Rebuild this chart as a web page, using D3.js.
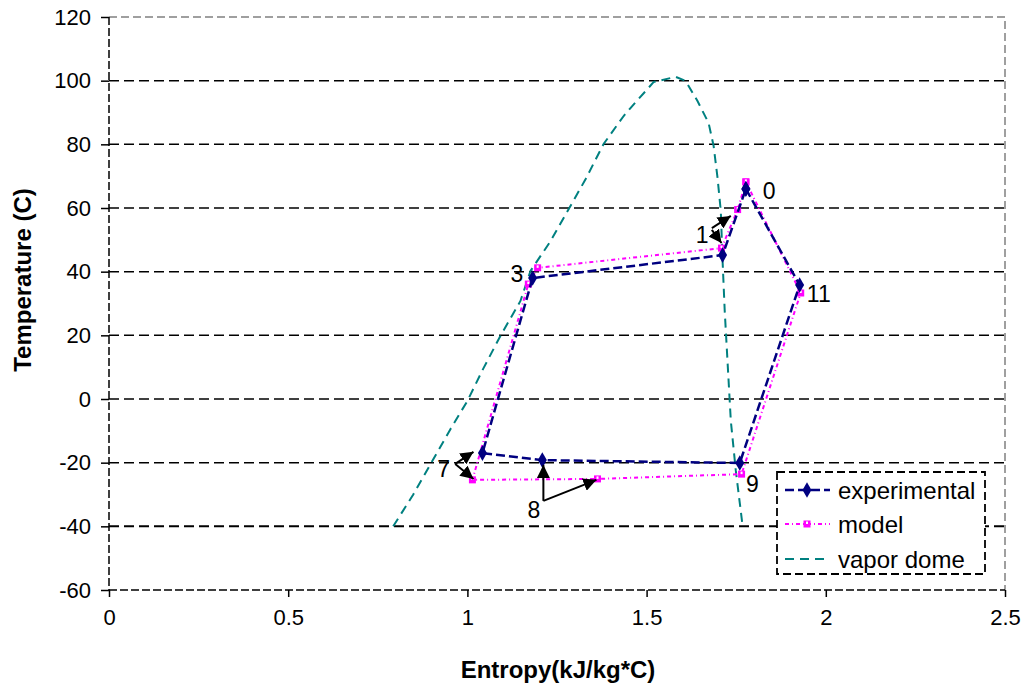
<!DOCTYPE html>
<html>
<head>
<meta charset="utf-8">
<script src="https://cdn.jsdelivr.net/npm/d3@7"></script>
<style>
  body { margin: 0; background: #fff; }
  text { font-family: Arial, "Liberation Sans", sans-serif; fill: #000; }
</style>
</head>
<body>
<svg id="chart" width="1026" height="685"></svg>
<script>
// experimental cycle (entropy kJ/kg*C, temperature C)
const expS = [1.777, 1.927, 1.760, 1.209, 1.042, 1.182, 1.712, 1.777];
const expT = [66.0, 35.8, -20.1, -19.2, -17.0, 38.0, 45.2, 66.0];

// model cycle
const modelS = [1.777, 1.930, 1.765, 1.363, 1.014, 1.170, 1.196, 1.709, 1.754, 1.777];
const modelT = [68.2, 33.3, -23.6, -25.1, -25.4, 36.1, 41.2, 47.4, 59.5, 68.2];

// vapor dome
const domeS = [0.793, 0.849, 0.902, 0.953, 1.000, 1.045, 1.092, 1.148, 1.176, 1.232, 1.330, 1.380,
  1.436, 1.455, 1.520, 1.581, 1.609, 1.642, 1.673, 1.687, 1.698, 1.707, 1.712, 1.718, 1.735, 1.749, 1.768];
const domeT = [-40, -30, -19.5, -9.4, -0.6, 9.7, 19.8, 30.8, 40.2, 49.6, 69.1, 80.1,
  88.9, 91.4, 99.6, 101.2, 99.9, 93.6, 86.7, 79.5, 69.4, 59.1, 43.4, 27.6, -6.9, -22.6, -40];

const xTicks = [0, 0.5, 1, 1.5, 2, 2.5];
const yTicks = [-60, -40, -20, 0, 20, 40, 60, 80, 100, 120];

// state point labels (placed in data units)
const labelText = ["0", "11", "1", "3", "7", "8", "9"];
const labelS = [1.824, 1.947, 1.637, 1.120, 0.916, 1.168, 1.777];
const labelT = [62.8, 30.5, 49.0, 36.8, -24.5, -37.4, -29.2];

// annotation arrows: from (s0,t0) to (s1,t1)
const arrowS0 = [0.966, 0.966, 1.212, 1.212, 1.682, 1.682];
const arrowT0 = [-20.4, -20.4, -32.0, -32.0, 53.7, 53.1];
const arrowS1 = [1.017, 1.017, 1.212, 1.360, 1.735, 1.709];
const arrowT1 = [-16.6, -25.1, -20.7, -25.4, 57.5, 49.0];

const legendNames = ["experimental", "model", "vapor dome"];

const svg = d3.select("#chart");
const mLeft = 109, mRight = 1005, mTop = 17, mBottom = 590;

const x = d3.scaleLinear().domain([0, 2.5]).range([mLeft, mRight]);
const y = d3.scaleLinear().domain([-60, 120]).range([mBottom, mTop]);

// gridlines
svg.append("g")
  .selectAll("line")
  .data(yTicks.filter(t => t > -60 && t < 120))
  .join("line")
  .attr("x1", mLeft).attr("x2", mRight)
  .attr("y1", d => y(d)).attr("y2", d => y(d))
  .attr("stroke", "#000")
  .attr("stroke-width", d => d === -40 ? 2 : 1.5)
  .attr("stroke-dasharray", "10,5");

// plot border top / right (gray dashed)
svg.append("path")
  .attr("d", `M${mLeft},${y(120)}H${mRight}V${y(-60)}`)
  .attr("fill", "none")
  .attr("stroke", "#808080")
  .attr("stroke-width", 1.5)
  .attr("stroke-dasharray", "8,4");

// axes
const yAxis = svg.append("g")
  .attr("transform", `translate(${mLeft},0)`)
  .call(d3.axisLeft(y).tickValues(yTicks).tickSize(8).tickPadding(10).tickFormat(d => String(d)));
const xAxis = svg.append("g")
  .attr("transform", `translate(0,${mBottom})`)
  .call(d3.axisBottom(x).tickValues(xTicks).tickSize(7).tickPadding(12).tickFormat(d => String(d)));

[yAxis, xAxis].forEach(ax => {
  ax.select(".domain").attr("stroke", "#000").attr("stroke-width", 1.5)
    .attr("stroke-dasharray", "8,3");
  ax.selectAll(".tick line").attr("stroke", "#000").attr("stroke-width", 1.5);
  ax.selectAll(".tick text").attr("font-size", 22)
    .style("font-family", "Arial, 'Liberation Sans', sans-serif").attr("fill", "#000");
});
yAxis.select(".domain").attr("d", `M0,${mTop}V${mBottom}`);
xAxis.select(".domain").attr("d", `M${mLeft},0H${mRight}`);

// axis titles
svg.append("text")
  .attr("x", 558).attr("y", 678)
  .attr("text-anchor", "middle")
  .attr("font-size", 24).attr("font-weight", "bold")
  .text("Entropy(kJ/kg*C)");
svg.append("text")
  .attr("transform", "translate(31,280) rotate(-90)")
  .attr("text-anchor", "middle")
  .attr("font-size", 24).attr("font-weight", "bold")
  .text("Temperature (C)");

const line = d3.line().x(d => x(d[0])).y(d => y(d[1]));

// vapor dome
svg.append("path")
  .datum(domeS.map((s, i) => [s, domeT[i]]))
  .attr("d", line)
  .attr("fill", "none")
  .attr("stroke", "#008080")
  .attr("stroke-width", 2)
  .attr("stroke-dasharray", "9,6");

// model
const modelPts = modelS.map((s, i) => [s, modelT[i]]);
svg.append("path")
  .datum(modelPts)
  .attr("d", line)
  .attr("fill", "none")
  .attr("stroke", "#ff00ff")
  .attr("stroke-width", 2)
  .attr("stroke-dasharray", "4,3,1,3");

function squareMarker(g, cx, cy) {
  g.append("rect").attr("x", cx - 3.5).attr("y", cy - 3.5).attr("width", 7).attr("height", 7)
    .attr("fill", "#ff00ff");
  g.append("rect").attr("x", cx - 1).attr("y", cy - 2.5).attr("width", 2).attr("height", 2.5)
    .attr("fill", "#fff");
}
const modelMarks = svg.append("g");
modelPts.forEach(p => squareMarker(modelMarks, x(p[0]), y(p[1])));

// experimental
const expPts = expS.map((s, i) => [s, expT[i]]);
svg.append("path")
  .datum(expPts)
  .attr("d", line)
  .attr("fill", "none")
  .attr("stroke", "#000080")
  .attr("stroke-width", 2.5)
  .attr("stroke-dasharray", "9,4");

const diamond = d3.symbol().type(d3.symbolDiamond).size(70);
svg.append("g")
  .selectAll("path")
  .data(expPts)
  .join("path")
  .attr("transform", d => `translate(${x(d[0])},${y(d[1])})`)
  .attr("d", diamond)
  .attr("fill", "#000080");

// arrows
svg.append("defs").append("marker")
  .attr("id", "head")
  .attr("viewBox", "0 0 10 10")
  .attr("refX", 10).attr("refY", 5)
  .attr("markerWidth", 6.5).attr("markerHeight", 6.5)
  .attr("markerUnits", "strokeWidth")
  .attr("orient", "auto")
  .append("path").attr("d", "M0,0L10,5L0,10Z").attr("fill", "#000");

svg.append("g")
  .selectAll("line")
  .data(arrowS0.map((s, i) => i))
  .join("line")
  .attr("x1", i => x(arrowS0[i])).attr("y1", i => y(arrowT0[i]))
  .attr("x2", i => x(arrowS1[i])).attr("y2", i => y(arrowT1[i]))
  .attr("stroke", "#000")
  .attr("stroke-width", 2)
  .attr("marker-end", "url(#head)");

// point labels
svg.append("g")
  .selectAll("text")
  .data(labelText)
  .join("text")
  .attr("x", (d, i) => x(labelS[i]))
  .attr("y", (d, i) => y(labelT[i]))
  .attr("font-size", 23)
  .text(d => d);

// legend
const lg = svg.append("g");
lg.append("rect")
  .attr("x", 777).attr("y", 472).attr("width", 208).attr("height", 102)
  .attr("fill", "#fff")
  .attr("stroke", "#000").attr("stroke-width", 1.8)
  .attr("stroke-dasharray", "8,4");

const legY = [490, 524, 559];
const legStroke = ["#000080", "#ff00ff", "#008080"];
const legDash = ["9,4", "4,3,1,3", "9,6"];
legendNames.forEach((name, i) => {
  lg.append("line")
    .attr("x1", 785).attr("x2", 830)
    .attr("y1", legY[i]).attr("y2", legY[i])
    .attr("stroke", legStroke[i])
    .attr("stroke-width", i === 0 ? 2.5 : 2)
    .attr("stroke-dasharray", legDash[i]);
  lg.append("text")
    .attr("x", 838).attr("y", legY[i] + 9)
    .attr("font-size", 24)
    .text(name);
});
lg.append("path")
  .attr("transform", `translate(807,${legY[0]})`)
  .attr("d", diamond)
  .attr("fill", "#000080");
squareMarker(lg, 807, legY[1]);
</script>
</body>
</html>
